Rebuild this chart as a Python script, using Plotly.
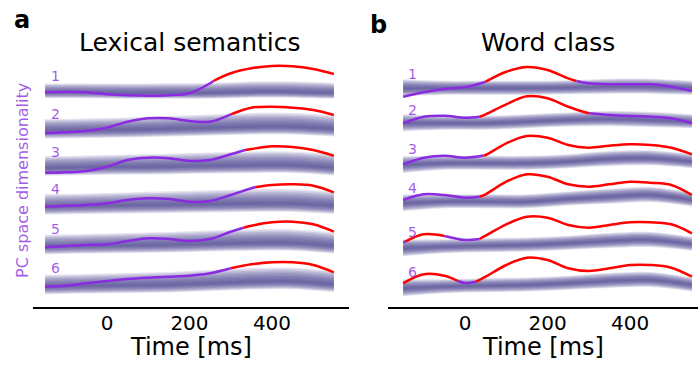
import plotly.graph_objects as go

# ---------------- data ----------------
T_GRID = [-150, -100, -50, 0, 50, 100, 150, 200, 250, 300, 350, 400, 450, 500, 550]
T_BAND = [-150, -50, 50, 150, 250, 350, 450, 550]
TICKS = [0, 200, 400]
ROW_LABELS = ["1", "2", "3", "4", "5", "6"]

# Lexical semantics: projection curves (height above row baseline)
LEX_CURVES = [
    [-0.3, 0.3, -0.3, -2.3, -3.3, -3.7, -3.3, -1.3, 8.7, 18.7, 23.7, 26.0, 25.7, 23.0, 18.0],
    [-3.3, -2.3, -1.0, 2.3, 8.3, 11.7, 11.7, 9.0, 8.3, 15.7, 22.3, 23.3, 22.3, 20.0, 15.0],
    [-4.7, -4.3, -3.0, 1.3, 8.0, 10.3, 9.7, 7.0, 8.0, 13.7, 19.0, 21.7, 21.0, 18.0, 12.3],
    [-1.7, -0.7, 0.0, 1.7, 5.0, 6.7, 6.0, 3.3, 4.0, 10.0, 16.7, 20.0, 20.7, 19.3, 12.7],
    [-2.3, -1.0, 0.0, 0.7, 4.0, 6.7, 6.0, 4.0, 6.0, 13.3, 19.3, 22.7, 23.3, 20.7, 13.3],
    [-2.7, -1.7, 0.7, 3.0, 5.0, 6.3, 7.3, 8.3, 10.7, 15.7, 19.7, 21.7, 21.7, 19.0, 11.7],
]
LEX_EDGE_T = [[258], [], [335], [359], [331], []]
LEX_EDGE_V = [[11.0], [], [18.0], [17.7], [17.3], []]
LEX_SIG = [[(258, 550)], [(300, 550)], [(335, 550)], [(359, 550)], [(331, 550)], [(300, 550)]]
LEX_BAND = [
    [-0.5, -0.5, -1.0, -1.0, -1.0, 0.0, 0.0, -1.0],
    [-1.0, -0.5, 0.0, 1.0, 2.0, 3.0, 3.0, 1.0],
    [-0.3, 0.5, 1.0, 1.3, 2.0, 2.5, 2.5, 0.0],
    [-1.7, -1.0, -0.5, 0.0, 0.5, 1.0, 1.0, -1.0],
    [-1.7, -1.0, -0.5, 0.0, 1.0, 1.7, 1.7, -1.0],
    [-2.7, -2.0, -1.5, -1.0, 0.5, 2.0, 2.3, -0.5],
]
LEX_UP = [12.0, 12.0, 12.5, 13.0, 13.5, 14.0, 14.0, 13.5]
LEX_DN = [7.5, 7.5, 7.5, 7.5, 7.5, 7.5, 7.5, 7.5]
LEX_WIDTH = [0.75, 1.0, 1.0, 1.05, 1.0, 1.0]

# Word class
WC_CURVES = [
    [-8.7, -4.3, -1.0, 0.7, 6.3, 16.3, 21.0, 18.0, 9.7, 4.7, 3.7, 3.7, 3.7, 1.3, -3.0],
    [0.7, 7.3, 8.3, 6.3, 9.7, 19.7, 27.7, 25.7, 17.3, 10.7, 9.0, 8.0, 7.3, 5.7, 0.7],
    [-1.3, 5.3, 7.3, 5.3, 8.0, 19.7, 27.0, 25.3, 18.0, 15.3, 17.3, 18.7, 18.0, 15.3, 8.7],
    [2.0, 7.7, 7.0, 4.3, 7.7, 20.3, 27.7, 25.3, 17.7, 15.3, 17.7, 20.3, 19.3, 17.0, 7.0],
    [3.7, 11.7, 10.0, 6.0, 10.3, 21.7, 29.3, 28.3, 21.0, 18.3, 21.0, 23.7, 23.7, 21.7, 12.7],
    [2.7, 11.7, 10.3, 3.0, 9.3, 21.0, 28.3, 26.0, 17.7, 15.0, 17.7, 21.0, 21.0, 18.3, 9.3],
]
WC_EDGE_T = [[270], [35], [45], [35], [-145, 35], [-17, 27]]
WC_EDGE_V = [[7.0], [7.3], [7.5], [5.3], [4.3, 7.0], [5.0, 4.3]]
WC_SIG = [[(50, 270)], [(35, 300)], [(45, 550)], [(35, 550)],
          [(-145, -50), (35, 550)], [(-150, -17), (27, 550)]]
WC_BAND = [
    [-0.3, -0.3, -0.3, -0.3, 0.3, 1.3, 1.3, -0.3],
    [0.7, 0.7, 0.7, 2.3, 4.0, 5.0, 4.0, 2.3],
    [-2.0, -0.3, -0.3, -0.3, 1.3, 4.0, 4.7, 1.3],
    [-1.3, 0.3, 0.3, 0.3, 3.0, 5.3, 7.0, 2.0],
    [-2.3, -0.7, 0.3, 1.0, 2.7, 5.0, 6.0, 1.7],
    [-2.3, -0.7, 0.3, 1.0, 2.7, 5.0, 6.0, 1.0],
]
WC_UP = [9.0, 7.5, 7.5, 7.5, 7.5, 8.0, 8.0, 7.5]
WC_DN = [8.0, 6.5, 6.5, 6.5, 6.5, 7.0, 7.0, 6.5]
WC_WIDTH = [1.0, 1.0, 1.0, 1.0, 1.0, 1.0]

# ---------------- layout constants ----------------
W, H = 699, 367
FONT = "DejaVu Sans"
PURPLE = "#8a2be2"
RED = "#ff0000"
LABEL_PURPLE = "rgba(138,43,226,0.78)"
BAND_RGB = "72,61,139"
N_LEVELS = 10
BAND_ALPHA = 0.14
LEX_OFFSETS = [0, 38, 76, 113, 153, 192]
WC_OFFSETS = [0, 36, 75, 114, 158, 198]

fig = go.Figure()


def merged_series(values, edge_t, edge_v):
    pts = dict(zip(T_GRID, values))
    for t, v in zip(edge_t, edge_v):
        pts.setdefault(t, v)
    ts = sorted(pts)
    return ts, [pts[t] for t in ts]


def segments(sig):
    bounds = {T_GRID[0], T_GRID[-1]}
    for a, b in sig:
        bounds.update([a, b])
    bs = sorted(bounds)
    segs = []
    for a, b in zip(bs[:-1], bs[1:]):
        mid = (a + b) / 2
        red = any(s <= mid <= e for s, e in sig)
        if segs and segs[-1][2] == red:
            segs[-1] = (segs[-1][0], b, red)
        else:
            segs.append((a, b, red))
    return segs


def draw_panel(xa, ya, curves, edge_t, edge_v, sig, band, up, dn, width, offsets, label_dy, label_t):
    for k in range(6):
        off = offsets[k]
        center = [c - off for c in band[k]]
        for i in range(N_LEVELS):
            f = (N_LEVELS - i) / N_LEVELS
            lo = [c - f * d * width[k] for c, d in zip(center, dn)]
            hi = [c + f * u * width[k] for c, u in zip(center, up)]
            fig.add_trace(go.Scatter(x=T_BAND, y=lo, mode="lines", line=dict(width=0, shape="spline"),
                                     xaxis=xa, yaxis=ya, hoverinfo="skip", showlegend=False))
            fig.add_trace(go.Scatter(x=T_BAND, y=hi, mode="lines", line=dict(width=0, shape="spline"),
                                     fill="tonexty", fillcolor=f"rgba({BAND_RGB},{BAND_ALPHA})",
                                     xaxis=xa, yaxis=ya, hoverinfo="skip", showlegend=False))
    for k in range(6):
        off = offsets[k]
        ts, vs = merged_series(curves[k], edge_t[k], edge_v[k])
        segs = segments(sig[k])
        for red_pass in (False, True):
            for a, b, red in segs:
                if red != red_pass:
                    continue
                xs = [t for t in ts if a <= t <= b]
                ys = [v - off for t, v in zip(ts, vs) if a <= t <= b]
                fig.add_trace(go.Scatter(x=xs, y=ys, mode="lines",
                                         line=dict(color=RED if red else PURPLE, width=2.5, shape="spline"),
                                         xaxis=xa, yaxis=ya, hoverinfo="skip", showlegend=False))
        fig.add_annotation(x=label_t, y=label_dy - off, xref=xa, yref=ya, text=ROW_LABELS[k],
                           showarrow=False, font=dict(family=FONT, size=14, color=LABEL_PURPLE))


draw_panel("x", "y", LEX_CURVES, LEX_EDGE_T, LEX_EDGE_V, LEX_SIG, LEX_BAND, LEX_UP, LEX_DN,
           LEX_WIDTH, LEX_OFFSETS, 16.5, -125)
draw_panel("x2", "y2", WC_CURVES, WC_EDGE_T, WC_EDGE_V, WC_SIG, WC_BAND, WC_UP, WC_DN,
           WC_WIDTH, WC_OFFSETS, 14.5, -128)

ydom = [1 - 307 / H, 1 - 50 / H]
xcommon = dict(showline=True, linecolor="black", linewidth=1.5, tickvals=TICKS, ticks="",
               ticklabelstandoff=-3,
               showgrid=False, zeroline=False, tickfont=dict(family=FONT, size=20, color="black"),
               fixedrange=True)
fig.update_layout(
    width=W, height=H, margin=dict(l=0, r=0, t=0, b=0),
    paper_bgcolor="white", plot_bgcolor="white",
    font=dict(family=FONT, color="black"),
    xaxis=dict(domain=[33 / W, 349 / W], range=[-179.4, 586.7], anchor="y", **xcommon),
    yaxis=dict(domain=ydom, range=[-215, 42], visible=False, fixedrange=True),
    xaxis2=dict(domain=[388 / W, 698 / W], range=[-186.7, 564.8], anchor="y2", **xcommon),
    yaxis2=dict(domain=ydom, range=[-219, 38], visible=False, fixedrange=True),
)


def paper_text(px, py, text, size, color="black", bold=False, angle=0):
    fig.add_annotation(x=px / W, y=1 - py / H, xref="paper", yref="paper", text=f"<b>{text}</b>" if bold else text,
                       showarrow=False, xanchor="center", yanchor="middle", textangle=angle,
                       font=dict(family=FONT, size=size, color=color))


paper_text(190, 42.5, "Lexical semantics", 25)
paper_text(548, 42.5, "Word class", 25)
paper_text(21.5, 20, "a", 24, bold=True)
paper_text(378, 25, "b", 24, bold=True)
paper_text(191, 347, "Time [ms]", 24)
paper_text(543, 347, "Time [ms]", 24)
paper_text(22, 181, "PC space dimensionality", 16, color=LABEL_PURPLE, angle=-90)

fig.write_html("out.html", config={"displayModeBar": False},
               post_script="document.body.style.margin='0';document.body.style.overflow='hidden';")
